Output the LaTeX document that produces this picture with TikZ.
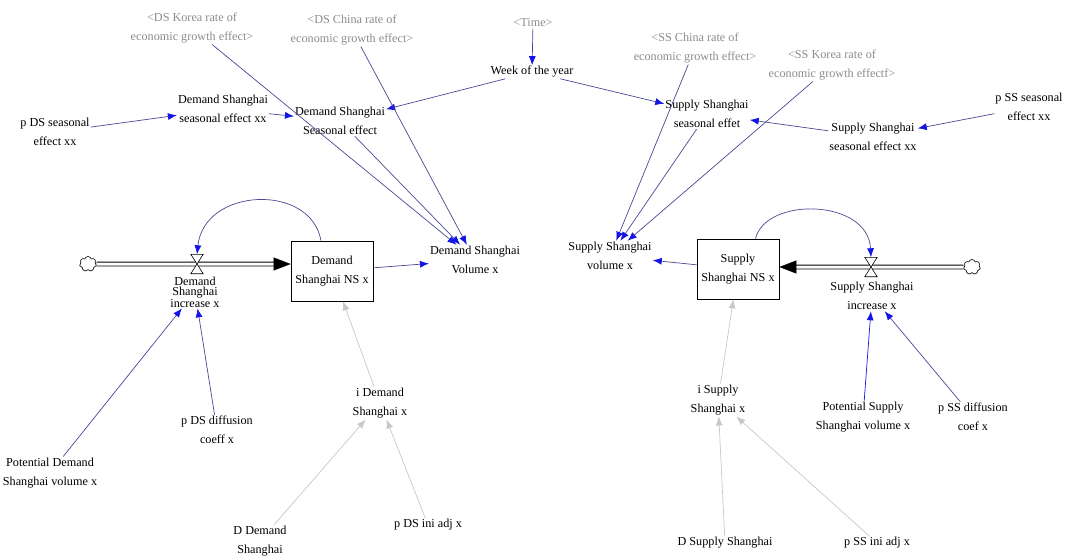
\documentclass[tikz,border=0pt]{standalone}
\usepackage{fontspec}
\setmainfont{Liberation Serif}
\usetikzlibrary{arrows.meta,shapes.symbols}

\definecolor{linkblue}{RGB}{72,72,150}
\definecolor{tipblue}{RGB}{20,20,230}
\definecolor{lightlink}{RGB}{200,200,200}
\definecolor{ghosttext}{RGB}{140,140,140}
\newcommand\vfont{\fontsize{12.2}{19.5}\selectfont}

\begin{document}
\begin{tikzpicture}[x=1pt,y=-1pt,
  var/.style={align=center,inner sep=1pt,font=\vfont},
  ghost/.style={var,text=ghosttext},
  stock/.style={draw,line width=0.7pt,fill=white,minimum width=82pt,minimum height=60pt,align=center,font=\vfont},
  link/.style={draw=linkblue,line width=0.7pt,-{Latex[length=9pt,width=7pt,color=tipblue]}},
  bluelink/.style={link,draw=tipblue},
  greylink/.style={draw=lightlink,line width=0.7pt,-{Latex[length=9pt,width=7pt,color=lightlink]}},
  pipe/.style={double,double distance=3pt,line width=0.8pt,shorten >=14pt},
  pipehead/.style={-{Triangle[length=17pt,width=13pt]}},
  valvebox/.style={minimum width=12pt,minimum height=19pt,inner sep=0pt},
  valveshape/.style={draw,fill=white,line width=0.6pt},
  cloudend/.style={cloud,cloud puffs=7,draw,line width=0.6pt,minimum width=17pt,minimum height=15pt,inner sep=0pt}]
\useasboundingbox (0,0) rectangle (1071,557);

% seasonal part
\node[ghost] (dskorea) at (192,28) {<DS Korea rate of\\economic growth effect>};
\node[ghost] (dschina) at (352,30) {<DS China rate of\\economic growth effect>};
\node[ghost] (time) at (533,23) {<Time>};
\node[var] (week) at (532,72) {Week of the year};
\node[ghost] (sschina) at (695,48) {<SS China rate of\\economic growth effect>};
\node[ghost] (sskorea) at (832,65) {<SS Korea rate of\\economic growth effectf>};
\node[var] (pdsseas) at (55,132) {p DS seasonal\\effect xx};
\node[var] (dsseasxx) at (223,109) {Demand Shanghai\\seasonal effect xx};
\node[var] (dsseas) at (340,121) {Demand Shanghai\\Seasonal effect};
\node[var] (ssseas) at (707,114) {Supply Shanghai\\seasonal effet};
\node[var] (ssseasxx) at (873,137) {Supply Shanghai\\seasonal effect xx};
\node[var] (pssseas) at (1029,107) {p SS seasonal\\effect xx};

% stocks and flows
\node[var] (dsvol) at (475,260) {Demand Shanghai\\Volume x};
\node[var] (ssvol) at (610,256) {Supply Shanghai\\volume x};
\node[stock] (dsns) at (332,271) {Demand\\Shanghai NS x};
\node[stock] (ssns) at (738,269) {Supply\\Shanghai NS x};
\node[cloudend] (dssrc) at (88,264) {};
\node[cloudend] (sssrc) at (972,267) {};
\node[valvebox] (dsvalve) at (197,264) {};
\node[valvebox] (ssvalve) at (871,267) {};
\node[var,font=\fontsize{12.2}{10}\selectfont] (dsinc) at (195,292) {Demand\\Shanghai\\increase x};
\node[var] (ssinc) at (872,296) {Supply Shanghai\\increase x};

% lower inputs
\node[var] (potds) at (50,473) {Potential Demand\\Shanghai volume x};
\node[var] (pdsdiff) at (217,430) {p DS diffusion\\coeff x};
\node[var] (idem) at (380,403) {i Demand\\Shanghai x};
\node[var] (ddem) at (260,541) {D Demand\\Shanghai};
\node[var] (pdsini) at (428,525) {p DS ini adj x};
\node[var] (isup) at (718,400) {i Supply\\Shanghai x};
\node[var] (potss) at (863,417) {Potential Supply\\Shanghai volume x};
\node[var] (pssdiff) at (973,417) {p SS diffusion\\coef x};
\node[var] (dsup) at (725,543) {D Supply Shanghai};
\node[var] (pssini) at (877,543) {p SS ini adj x};

% pipes
\draw[pipe] (dssrc) -- (dsns.west |- dssrc);
\draw[pipehead] ([xshift=-16pt]dsns.west |- dssrc) -- (dsns.west |- dssrc);
\draw[pipe] (sssrc) -- (ssns.east |- sssrc);
\draw[pipehead] ([xshift=16pt]ssns.east |- sssrc) -- (ssns.east |- sssrc);
\draw[valveshape] (dsvalve.north west) -- (dsvalve.north east) -- (dsvalve.south west) -- (dsvalve.south east) -- cycle;
\draw[valveshape] (ssvalve.north west) -- (ssvalve.north east) -- (ssvalve.south west) -- (ssvalve.south east) -- cycle;

% links
\draw[link] (time) -- (week);
\draw[link] (week) -- (dsseas);
\draw[link] (week) -- (ssseas);
\draw[link] (pdsseas) -- (dsseasxx);
\draw[link] (dsseasxx) -- (dsseas);
\draw[link] (dskorea) -- (dsvol);
\draw[link] (dschina) -- (dsvol);
\draw[link] (dsseas) -- (dsvol);
\draw[link] (dsns) -- (dsvol);
\draw[link] (sschina) -- (ssvol);
\draw[link] (ssseas) -- (ssvol);
\draw[link] (sskorea) -- (ssvol);
\draw[link] (ssseasxx) -- (ssseas);
\draw[link] (pssseas) -- (ssseasxx);
\draw[link] (ssns) -- (ssvol);
\draw[link] (dsns.110) .. controls +(-10,-58) and +(7,-67) .. (dsvalve.north);
\draw[link] (ssns.60) .. controls +(10,-42) and +(-3,-59) .. (ssvalve.north);
\draw[link] (potds) -- (dsinc);
\draw[link] (pdsdiff) -- (dsinc);
\draw[bluelink] (potss) -- (ssinc);
\draw[link] (pssdiff) -- (ssinc);
\draw[greylink] (idem) -- (dsns);
\draw[greylink] (ddem) -- (idem);
\draw[greylink] (pdsini) -- (idem);
\draw[greylink] (isup) -- (ssns);
\draw[greylink] (dsup) -- (isup);
\draw[greylink] (pssini) -- (isup);

\end{tikzpicture}
\end{document}
